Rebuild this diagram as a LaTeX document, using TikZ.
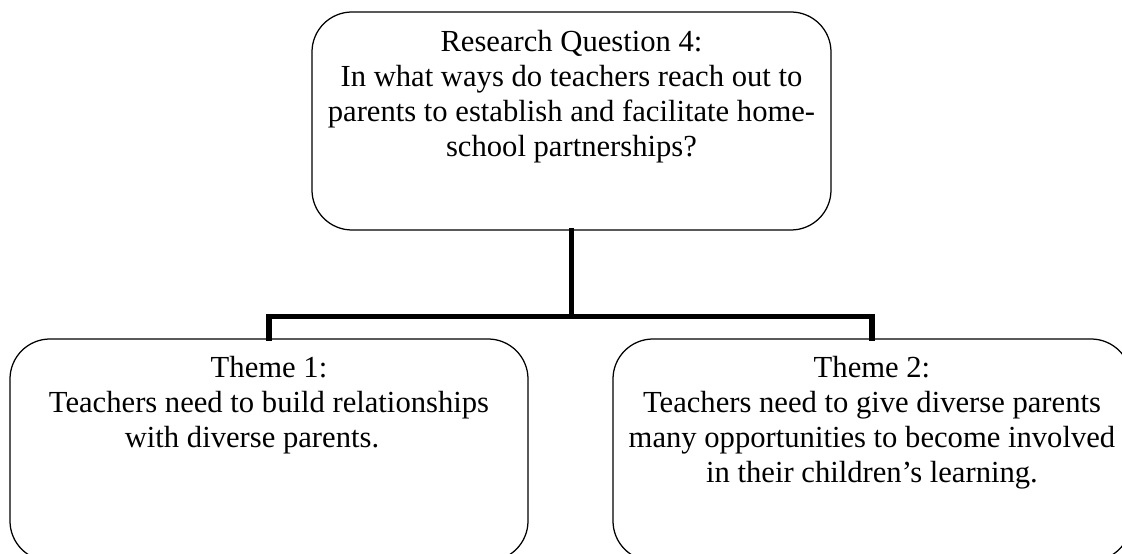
\documentclass[tikz,border=0pt]{standalone}
\usepackage{fontspec}
\setmainfont{Liberation Serif}
\usetikzlibrary{positioning}
\begin{document}
\begin{tikzpicture}[x=0.4pt,y=0.4pt,
	box/.style={draw,line width=0.5pt,rounded corners=16pt,inner sep=0pt},
	txt/.style={align=center,inner sep=0pt,font=\fontsize{12.25}{14}\selectfont},
	link/.style={line width=2.2pt,line join=miter,line cap=rect}]
	\clip (0,0) rectangle (1122,554);
	\useasboundingbox (0,0) rectangle (1122,554);
	% boxes
	\node[box,minimum width=207.6pt,minimum height=87.2pt] (rq) at (571.5,433) {};
	\node[box,minimum width=207.2pt,minimum height=88.8pt] (th1) at (269,104) {};
	\node[box,minimum width=207.2pt,minimum height=88.8pt] (th2) at (872,104) {};
	% texts
	\node[txt,below=7.2pt of rq.north] (rqtext) {Research Question 4:\\In what ways do teachers reach out to\\parents to establish and facilitate home-\\school partnerships?};
	\node[txt,below=7pt of th1.north] (th1text) {Theme 1:\\Teachers need to build relationships\\with diverse parents.\hspace*{13.6pt}};
	\node[txt,below=7pt of th2.north] (th2text) {Theme 2:\\Teachers need to give diverse parents\\many opportunities to become involved\\in their children’s learning.};
	% connectors
	\coordinate (fork) at (571.5,237.5);
	\draw[link] (rq.south) -- (fork);
	\draw[link] (th1.north) |- (fork) -| (th2.north);
\end{tikzpicture}
\end{document}
